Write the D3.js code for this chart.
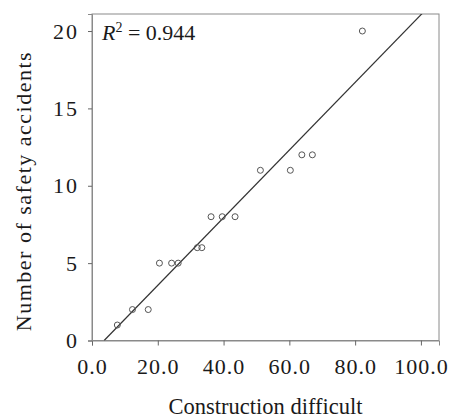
<!DOCTYPE html>
<html>
<head>
	<meta charset="utf-8">
	<title>Construction difficult vs safety accidents</title>
	<style>
		body { margin: 0; background: #fff; }
		svg text { font-family: "Liberation Serif", "Times New Roman", serif; fill: #1a1a1a; }
	</style>
</head>
<body>
	<script src="https://d3js.org/d3.v7.min.js" charset="utf-8"></script>
	<script>
// construction difficulty of each project and its number of safety accidents
var difficulty = [7.7, 12.3, 17.1, 20.5, 24.2, 26.2, 32.0, 33.4, 36.2, 39.6, 43.5, 51.2, 60.3, 63.8, 67.0, 82.2];
var accidents  = [1, 2, 2, 5, 5, 5, 6, 6, 8, 8, 8, 11, 11, 12, 12, 20];
var xTicks = [0, 20, 40, 60, 80, 100];
var yTicks = [0, 5, 10, 15, 20];
var rSquared = '0.944';

var margin = {top: 14, right: 11, bottom: 77.5, left: 92};
var width = 450 - margin.left - margin.right;
var height = 418 - margin.top - margin.bottom;

var svg = d3.select('body').append('svg')
			.attr('width', 450)
			.attr('height', 418);

var g = svg.append('g')
		.attr('transform', 'translate(' + margin.left + ',' + margin.top + ')');

var x = d3.scaleLinear().domain([0, 105.5]).range([0, width]);
var y = d3.scaleLinear().domain([0, 21.1]).range([height, 0]);

// least squares fit line
var mx = d3.mean(difficulty), my = d3.mean(accidents);
var sxy = 0, sxx = 0;
difficulty.forEach(function(d, i) {
	sxy += (d - mx) * (accidents[i] - my);
	sxx += (d - mx) * (d - mx);
});
var slope = sxy / sxx;
var intercept = my - slope * mx;

// frame
g.append('rect')
	.attr('width', width)
	.attr('height', height)
	.attr('fill', 'none')
	.attr('stroke', '#8a8a8a')
	.attr('stroke-width', 1);

var xAxis = g.append('g')
	.attr('transform', 'translate(0,' + height + ')')
	.call(d3.axisBottom(x).tickValues(xTicks).tickSize(5).tickPadding(13).tickFormat(d3.format('.1f')));

var yAxis = g.append('g')
	.call(d3.axisLeft(y).tickValues(yTicks).tickSize(4).tickPadding(9).tickFormat(d3.format('d')));

[xAxis, yAxis].forEach(function(a) {
	a.attr('font-family', '"Liberation Serif", serif');
	a.select('.domain').attr('stroke', '#8a8a8a');
	a.selectAll('.tick line').attr('stroke', '#666');
	a.selectAll('text').attr('fill', '#1a1a1a');
});
xAxis.attr('font-size', 22).selectAll('text').style('letter-spacing', '1px');
yAxis.attr('font-size', 22).selectAll('text').style('letter-spacing', '2px');

// regression line, clipped to the plot
svg.append('clipPath').attr('id', 'plot')
	.append('rect').attr('width', width).attr('height', height);

var x0 = -intercept / slope;
g.append('line')
	.attr('clip-path', 'url(#plot)')
	.attr('x1', x(x0))
	.attr('y1', y(0))
	.attr('x2', x(105.5))
	.attr('y2', y(intercept + slope * 105.5))
	.attr('stroke', '#333')
	.attr('stroke-width', 1.2);

g.selectAll('circle')
	.data(difficulty)
	.enter()
	.append('circle')
	.attr('cx', function(d) { return x(d); })
	.attr('cy', function(d, i) { return y(accidents[i]); })
	.attr('r', 3)
	.attr('fill', 'none')
	.attr('stroke', '#555')
	.attr('stroke-width', 1);

var r2 = g.append('text')
	.attr('x', 10)
	.attr('y', 26)
	.style('font-size', '22px');
r2.append('tspan').style('font-style', 'italic').text('R');
r2.append('tspan').attr('dy', -8).style('font-size', '14px').text('2');
r2.append('tspan').attr('dy', 8).text(' = ' + rSquared);

svg.append('text')
	.attr('x', margin.left + width / 2)
	.attr('y', 414)
	.attr('text-anchor', 'middle')
	.style('font-size', '22.5px')
	.text('Construction difficult');

svg.append('text')
	.attr('transform', 'translate(31,191) rotate(-90)')
	.attr('text-anchor', 'middle')
	.style('font-size', '22px')
	.style('letter-spacing', '1.5px')
	.text('Number of safety accidents');

	</script>
</body>
</html>
